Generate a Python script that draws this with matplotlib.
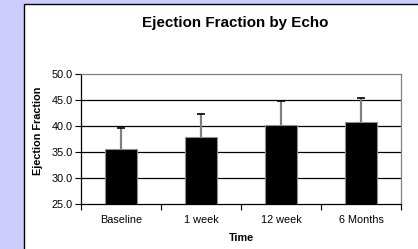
import matplotlib
matplotlib.use("Agg")
import matplotlib.pyplot as plt
from matplotlib.patches import Rectangle
import numpy as np

categories = ["Baseline", "1 week", "12 week", "6 Months"]
values = [35.6, 37.8, 40.2, 40.8]
err_plus = [4.0, 4.6, 4.7, 4.5]
yticks = [25.0, 30.0, 35.0, 40.0, 45.0, 50.0]

plt.rcParams['font.family'] = ['Liberation Sans', 'DejaVu Sans']

W, H = 418, 249
fig = plt.figure(figsize=(W/100, H/100), dpi=100, facecolor='#CCCCFF')
fig.patches.append(Rectangle((24/W, -0.1), 1.0, (H-4)/H + 0.1, transform=fig.transFigure,
                             facecolor='white', edgecolor='black', linewidth=1.0, zorder=-10))

ax = fig.add_axes([81/W, (H-204)/H, 320/W, 130/H])
ax.set_zorder(5)
ax.set_facecolor('white')
x = np.arange(len(categories))
ax.bar(x, values, width=0.4, color='black', edgecolor='#909090', linewidth=0.8, zorder=3)
eb = ax.errorbar(x, values, yerr=[np.zeros(len(err_plus)), err_plus], fmt='none',
                 ecolor='#808080', elinewidth=1.6, capsize=3, capthick=1.2, zorder=2)
caps = eb[1]
caps[0].set_visible(False)
caps[1].set_color('black')
caps[1].set_markeredgecolor('black')

ax.set_ylim(25, 50)
ax.set_xlim(-0.5, 3.5)
ax.set_yticks(yticks)
ax.set_yticklabels([f"{v:.1f}" for v in yticks], fontsize=7.8)
ax.set_xticks(x)
ax.set_xticklabels(categories, fontsize=7.8)
ax.set_xticks(np.arange(-0.5, 3.6, 1.0), minor=True)
ax.tick_params(axis='x', which='major', length=0, pad=8)
ax.tick_params(axis='x', which='minor', length=4, width=0.8, direction='out', color='black')
ax.tick_params(axis='y', length=4, width=0.8, direction='out', pad=2)
for yv in yticks[1:-1]:
    ax.axhline(yv, color='black', linewidth=0.9, zorder=1)
ax.spines['left'].set_color('black')
ax.spines['bottom'].set_color('black')
ax.spines['top'].set_color('#808080')
ax.spines['right'].set_color('#808080')
for s in ax.spines.values():
    s.set_linewidth(0.9)

ax.set_ylabel("Ejection Fraction", fontsize=7.8, fontweight='bold', va='center')
ax.yaxis.set_label_coords(-0.134, 0.56)
ax.set_xlabel("Time", fontsize=7.8, fontweight='bold', labelpad=6)
fig.text(235/W, 1 - 23.5/H, "Ejection Fraction by Echo", ha='center', va='center',
         fontsize=10.9, fontweight='bold', zorder=6)

fig.savefig("out.png", dpi=100, facecolor=fig.get_facecolor())
